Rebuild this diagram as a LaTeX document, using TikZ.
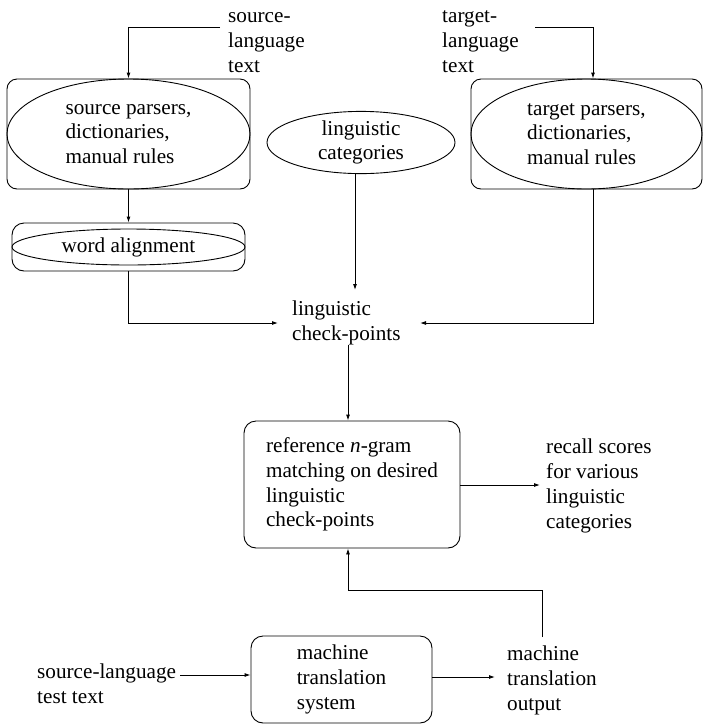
\documentclass[tikz,border=0pt]{standalone}
\usepackage{fontspec}
\setmainfont{Liberation Serif}
\usetikzlibrary{shapes.geometric,arrows.meta}
\begin{document}
\begin{tikzpicture}[x=1pt,y=-1pt,
  every node/.style={font=\fontsize{21.2}{24.7}\selectfont, inner sep=0pt},
  rbox/.style={draw, rectangle, rounded corners=10pt, line width=0.9pt},
  oval/.style={draw, ellipse, line width=0.9pt, align=left},
  txt/.style={align=left, anchor=base west},
  arr/.style={line width=0.9pt, -{Latex[length=6pt,width=4pt]}},
  ln/.style={line width=0.9pt}]
\useasboundingbox (0,0) rectangle (703,724);

% source-side resources
\node[rbox, minimum width=243pt, minimum height=110pt] (box1) at (128.5,134) {};
\node[oval, minimum width=243pt, minimum height=110pt] (srcres) at (128.5,134)
  {source parsers,\\dictionaries,\\manual rules};

% target-side resources
\node[rbox, minimum width=231pt, minimum height=110pt] (box2) at (586.5,134) {};
\node[oval, minimum width=231pt, minimum height=110pt] (tgtres) at (586.5,134)
  {target parsers,\\dictionaries,\\manual rules};

% categories
\node[oval, align=center, minimum width=188pt, minimum height=59pt] (cats) at (361,142.5)
  {linguistic\\categories};

% word alignment
\node[rbox, rounded corners=12pt, minimum width=233pt, minimum height=48pt] (wabox) at (128.5,247) {};
\node[oval, minimum width=233pt, minimum height=36pt] (wa) at (128.5,247) {word alignment};

% matching
\node[rbox, rounded corners=12pt, minimum width=216pt, minimum height=127pt, align=left] (match) at (352,484.5)
  {reference \textit{n}-gram\\matching on desired\\linguistic\\check-points};

% MT system
\node[rbox, rounded corners=12pt, minimum width=181pt, minimum height=87pt, align=left] (mt) at (341.5,679.5)
  {machine\\translation\\system};

% free labels (anchored at the baseline of their last line)
\node[txt] (srclbl) at (228,72) {source-\\language\\text};
\node[txt] (tgtlbl) at (442,72) {target-\\language\\text};
\node[txt] (cp) at (292,340) {linguistic\\check-points};
\node[txt] (recall) at (546,528) {recall scores\\for various\\linguistic\\categories};
\node[txt] (srctest) at (37,703) {source-language\\test text};
\node[txt] (mtout) at (507,710) {machine\\translation\\output};

% connector end points next to the labels
\coordinate (srcin) at (220,27);
\coordinate (tgtin) at (535,27);
\coordinate (cpL) at (278,323);
\coordinate (cpR) at (420,323);
\coordinate (cpT) at (355,290);
\coordinate (cpB) at (348,345);
\coordinate (recin) at (540,485);
\coordinate (mtoutin) at (495,677);
\coordinate (srctestout) at (180,675);
\coordinate (mtouttop) at (542,637);
\coordinate (fb) at (348,590);
\coordinate (tgtx) at ([xshift=6.5pt]box2.north);

% connectors
\draw[arr] (srcin) -| (box1.north);
\draw[arr] (tgtin) -| (tgtx);
\draw[arr] (box1.south) -- (wabox.north);
\draw[arr] (wabox.south) |- (cpL);
\draw[arr] (tgtx |- box2.south) |- (cpR);
\draw[arr] (cpT |- cats.south) -- (cpT);
\draw[arr] (cpB) -- (cpB |- match.north);
\draw[arr] (match.east |- recin) -- (recin);
\draw[arr] (mtouttop) |- (fb) -- (fb |- match.south);
\draw[arr] (srctestout) -- (srctestout -| mt.west);
\draw[arr] (mt.east |- mtoutin) -- (mtoutin);
\end{tikzpicture}
\end{document}
